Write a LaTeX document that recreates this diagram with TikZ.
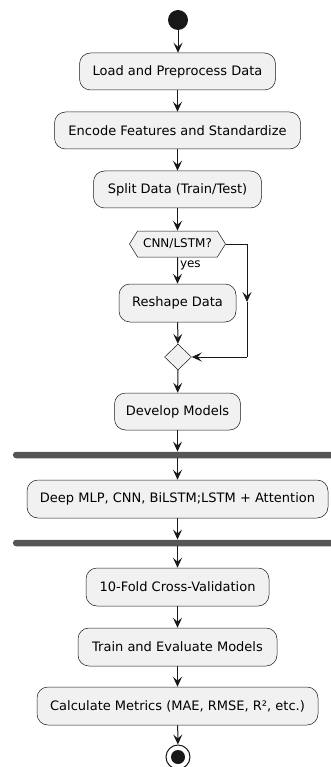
\documentclass[tikz,border=0pt]{standalone}
\usepackage{fontspec}
\setmainfont{DejaVu Sans}
\usetikzlibrary{arrows.meta,shapes.geometric,shapes.symbols}
\definecolor{boxfill}{HTML}{F1F1F1}
\definecolor{linec}{HTML}{181818}
\definecolor{barc}{HTML}{555555}
\begin{document}
\begin{tikzpicture}[x=1pt,y=-1pt,
  act/.style={draw=linec,line width=0.5pt,fill=boxfill,rectangle,rounded corners=11pt,
    minimum height=37pt,inner sep=0pt,font=\fontsize{13}{15}\selectfont},
  hexa/.style={draw=linec,line width=0.5pt,fill=boxfill,signal,signal to=west and east,
    signal pointer angle=116,minimum width=96pt,minimum height=26pt,inner sep=1pt,
    font=\fontsize{12}{14}\selectfont},
  merge/.style={draw=linec,line width=0.5pt,fill=boxfill,diamond,aspect=1,
    minimum width=27pt,minimum height=26pt,inner sep=0pt},
  bar/.style={fill=barc,rectangle,rounded corners=3pt,minimum height=6.5pt,inner sep=0pt},
  flow/.style={draw=linec,line width=1pt,-{Stealth[length=10pt,width=9pt,inset=4pt]}},
  plain/.style={draw=linec,line width=1pt},
  lbl/.style={font=\fontsize{12}{14}\selectfont,inner sep=0pt}]
\useasboundingbox (0,0) rectangle (331,767);
\node[circle,fill=linec,minimum size=20pt,inner sep=0pt] (start) at (178,20) {};
\node[act,minimum width=196pt] (load) at (177.5,71.5) {Load and Preprocess Data};
\node[act,minimum width=246pt] (enc) at (177.5,130.5) {Encode Features and Standardize};
\node[act,minimum width=168pt] (split) at (177.5,189.5) {Split Data (Train/Test)};
\node[hexa] (dec) at (177.5,244) {CNN/LSTM?};
\node[act,minimum width=117pt,minimum height=38pt] (resh) at (177.5,303) {Reshape Data};
\node[merge] (mrg) at (178,357) {};
\node[act,minimum width=126pt] (dev) at (177.5,411.5) {Develop Models};
\node[bar,minimum width=340pt] (fork) at (183,455) {};
\node[act,minimum width=301pt,minimum height=38pt] (deep) at (177.5,499) {Deep MLP, CNN, BiLSTM;LSTM + Attention};
\node[bar,minimum width=340pt] (join) at (183,543) {};
\node[act,minimum width=183pt,minimum height=38pt] (cv) at (177.5,587) {10-Fold Cross-Validation};
\node[act,minimum width=199pt,minimum height=38pt] (train) at (177.5,647) {Train and Evaluate Models};
\node[act,minimum width=281pt,minimum height=38pt] (calc) at (177.5,706) {Calculate Metrics (MAE, RMSE, R², etc.)};
\node[circle,draw=linec,line width=1pt,fill=white,minimum size=24pt,inner sep=0pt] (stop) at (178,757) {};
\node[circle,fill=linec,minimum size=14pt,inner sep=0pt] at (stop.center) {};
\coordinate (c1) at (247,244);
\coordinate (c2) at (247,302);
\coordinate (c3) at (247,357);
\draw[flow] (start) -- (start|-load.north);
\draw[flow] (load) -- (load|-enc.north);
\draw[flow] (enc) -- (enc|-split.north);
\draw[flow] (split) -- (split|-dec.north);
\draw[flow] (dec) -- node[lbl,right,pos=0.3,xshift=2pt] {yes} (dec|-resh.north);
\draw[flow] (resh) -- (mrg);
\draw[plain] (dec.east) -- (c1);
\draw[flow] (c1) -- (c2);
\draw[plain] (c2) -- (c3);
\draw[flow] (c3) -- (mrg.east);
\draw[flow] (mrg) -- (dev);
\draw[flow] (dev.south) -- (dev.south|-fork.north);
\draw[flow] (dev.south|-fork.south) -- (dev.south|-deep.north);
\draw[flow] (deep.south) -- (deep.south|-join.north);
\draw[flow] (deep.south|-join.south) -- (cv);
\draw[flow] (cv) -- (train);
\draw[flow] (train) -- (calc);
\draw[flow] (calc) -- (stop);
\end{tikzpicture}
\end{document}
